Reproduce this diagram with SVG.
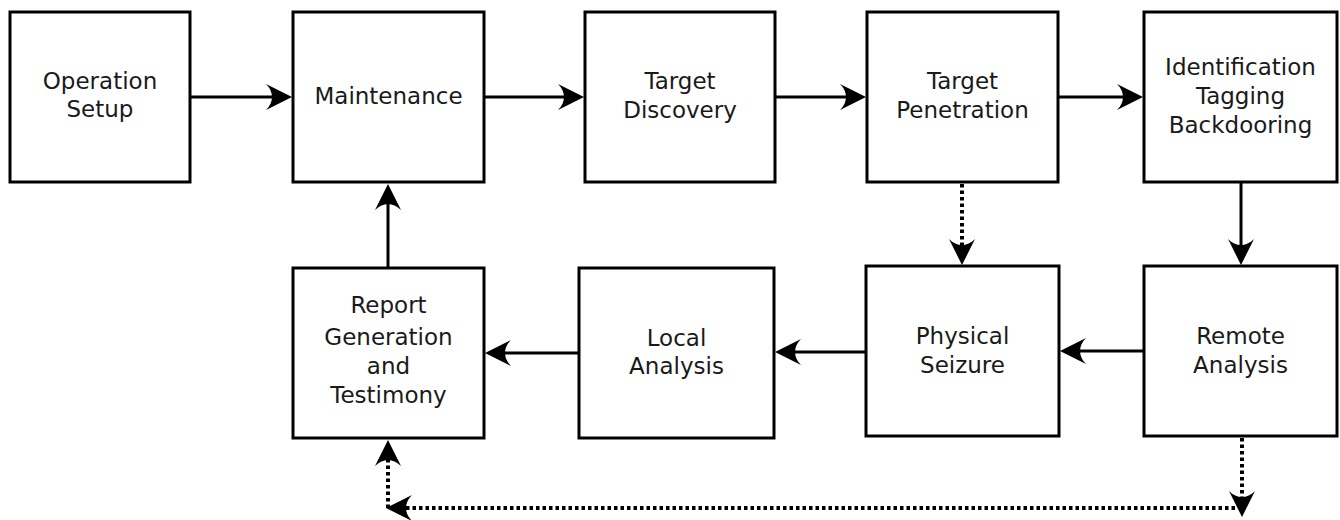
<svg xmlns="http://www.w3.org/2000/svg" width="1340" height="520" viewBox="0 0 1340 520">
<style>
.box{fill:#fff;stroke:#000;stroke-width:3}
.t{font-family:"DejaVu Sans",sans-serif;font-size:23px;fill:#1a1a1a;text-anchor:middle}
.c{fill:none;stroke:#000;stroke-width:3}
.d{fill:none;stroke:#000;stroke-width:4;stroke-dasharray:3.5 3}
</style>
<defs>
<marker id="ah" viewBox="-27 -14 28 28" refX="-17" refY="0" markerWidth="28" markerHeight="28" markerUnits="userSpaceOnUse" orient="auto">
<path d="M0,0 L-26,-13 C-18,-5 -18,5 -26,13 Z" fill="#000"/>
</marker>
</defs>
<rect width="1340" height="520" fill="#fff"/>
<g id="connectors">
<path class="c" d="M191,97 H275" marker-end="url(#ah)"/>
<path class="c" d="M485,97 H567" marker-end="url(#ah)"/>
<path class="c" d="M776,97 H849" marker-end="url(#ah)"/>
<path class="c" d="M1059,97 H1126" marker-end="url(#ah)"/>
<path class="c" d="M1241,183 V248" marker-end="url(#ah)"/>
<path class="c" d="M1144,351 H1077" marker-end="url(#ah)"/>
<path class="c" d="M866,352 H792" marker-end="url(#ah)"/>
<path class="c" d="M579,353 H502" marker-end="url(#ah)"/>
<path class="c" d="M388,268 V201" marker-end="url(#ah)"/>
<path class="d" d="M962,184 V248" marker-end="url(#ah)"/>
<path class="d" d="M1242,438 V500" marker-end="url(#ah)"/>
<path class="d" d="M1235,508 H403" marker-end="url(#ah)"/>
<path class="d" d="M388,508 V457" marker-end="url(#ah)"/>
</g>
<g id="operation-setup">
<rect class="box" x="10" y="12" width="180" height="170"/>
<text class="t" x="100" y="89">Operation</text>
<text class="t" x="100" y="117">Setup</text>
</g>
<g id="maintenance">
<rect class="box" x="293" y="12" width="191" height="170"/>
<text class="t" x="388.5" y="104">Maintenance</text>
</g>
<g id="target-discovery">
<rect class="box" x="585" y="12" width="190" height="170"/>
<text class="t" x="680" y="89">Target</text>
<text class="t" x="680" y="118">Discovery</text>
</g>
<g id="target-penetration">
<rect class="box" x="867" y="12" width="191" height="170"/>
<text class="t" x="962.5" y="89">Target</text>
<text class="t" x="962.5" y="118">Penetration</text>
</g>
<g id="identification">
<rect class="box" x="1144" y="12" width="193" height="170"/>
<text class="t" x="1240.5" y="75">Identification</text>
<text class="t" x="1240.5" y="104">Tagging</text>
<text class="t" x="1240.5" y="133">Backdooring</text>
</g>
<g id="report-generation">
<rect class="box" x="293" y="268" width="191" height="170"/>
<text class="t" x="388.5" y="313">Report</text>
<text class="t" x="388.5" y="345">Generation</text>
<text class="t" x="388.5" y="374">and</text>
<text class="t" x="388.5" y="403">Testimony</text>
</g>
<g id="local-analysis">
<rect class="box" x="579" y="268" width="195" height="170"/>
<text class="t" x="676.5" y="346">Local</text>
<text class="t" x="676.5" y="374">Analysis</text>
</g>
<g id="physical-seizure">
<rect class="box" x="866" y="266" width="193" height="170"/>
<text class="t" x="962.5" y="344">Physical</text>
<text class="t" x="962.5" y="373">Seizure</text>
</g>
<g id="remote-analysis">
<rect class="box" x="1144" y="266" width="193" height="170"/>
<text class="t" x="1240.5" y="344">Remote</text>
<text class="t" x="1240.5" y="373">Analysis</text>
</g>
</svg>
